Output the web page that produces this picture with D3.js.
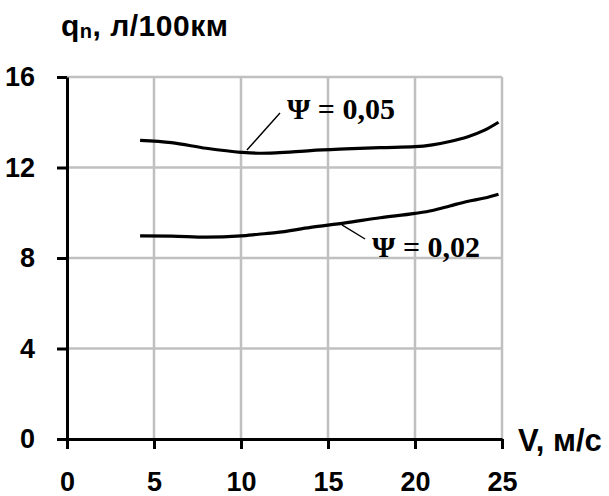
<!DOCTYPE html>
<html>
<head>
<meta charset="utf-8">
<script src="https://cdn.jsdelivr.net/npm/d3@7"></script>
<style>
  body { margin: 0; background: #fff; }
</style>
</head>
<body>
<svg id="chart"></svg>
<script>
var width = 609;
var height = 496;

// data
var speeds = [4.2, 6, 8, 10, 11, 12, 14, 16, 18, 20, 21, 22, 23, 24, 24.8];
var psi005 = [13.2, 13.1, 12.85, 12.67, 12.63, 12.65, 12.75, 12.82, 12.88, 12.92, 13.0, 13.15, 13.35, 13.65, 14.0];
var psi002 = [8.98, 8.97, 8.92, 8.98, 9.05, 9.12, 9.35, 9.55, 9.78, 9.97, 10.1, 10.3, 10.5, 10.65, 10.82];
var xTicks = [0, 5, 10, 15, 20, 25];
var yTicks = [0, 4, 8, 12, 16];
var seriesLabels = ["\u03A8 = 0,05", "\u03A8 = 0,02"];

var svg = d3.select("#chart")
    .attr("width", width)
    .attr("height", height);

var x = d3.scaleLinear().domain([0, 25]).range([67, 502]);
var y = d3.scaleLinear().domain([0, 16]).range([439, 77]);

// grid
svg.append("g").selectAll("line")
    .data(xTicks.slice(1))
    .enter().append("line")
    .attr("x1", d => x(d)).attr("x2", d => x(d))
    .attr("y1", y(0)).attr("y2", y(16))
    .style("stroke", "#c0c0c0").style("stroke-width", 2.5);

svg.append("g").selectAll("line")
    .data(yTicks.slice(1))
    .enter().append("line")
    .attr("x1", x(0)).attr("x2", x(25))
    .attr("y1", d => y(d)).attr("y2", d => y(d))
    .style("stroke", "#c0c0c0").style("stroke-width", 2.5);

// axes
var xAxis = svg.append("g")
    .attr("transform", "translate(0," + y(0) + ")")
    .call(d3.axisBottom(x).tickValues(xTicks).tickSize(10).tickSizeOuter(0).tickPadding(23));
var yAxis = svg.append("g")
    .attr("transform", "translate(" + x(0) + ",0)")
    .call(d3.axisLeft(y).tickValues(yTicks).tickSize(10).tickSizeOuter(0).tickPadding(22));

[xAxis, yAxis].forEach(function(a){
  a.selectAll("path, line").style("stroke", "#000").style("stroke-width", 3);
  a.selectAll("text")
    .style("font-family", "Liberation Sans, Arial, sans-serif")
    .style("font-weight", "bold")
    .style("font-size", "27px")
    .style("fill", "#000");
});

// curves
var line = d3.line()
    .x((d, i) => x(speeds[i]))
    .y(d => y(d))
    .curve(d3.curveMonotoneX);

[psi005, psi002].forEach(function(s){
  svg.append("path")
    .datum(s)
    .attr("d", line)
    .style("fill", "none")
    .style("stroke", "#000")
    .style("stroke-width", 3.2);
});

// leader lines and labels
var leaders = [[10.34, 12.77, 12.24, 14.41], [15.8, 9.46, 17.13, 8.84]];
var labelPos = [[12.64, 14.14], [17.53, 8.04]];

svg.append("g").selectAll("line")
    .data(leaders)
    .enter().append("line")
    .attr("x1", d => x(d[0])).attr("y1", d => y(d[1]))
    .attr("x2", d => x(d[2])).attr("y2", d => y(d[3]))
    .style("stroke", "#000").style("stroke-width", 1.4);

svg.append("g").selectAll("text")
    .data(seriesLabels)
    .enter().append("text")
    .attr("x", (d, i) => x(labelPos[i][0]))
    .attr("y", (d, i) => y(labelPos[i][1]))
    .style("font-family", "Liberation Serif, Times New Roman, serif")
    .style("font-weight", "bold")
    .style("font-size", "30px")
    .text(d => d);

// axis titles
var title = svg.append("text")
    .attr("x", 61)
    .attr("y", 36)
    .style("font-family", "Liberation Sans, Arial, sans-serif")
    .style("font-weight", "bold")
    .style("font-size", "30px")
    .style("letter-spacing", "0.5px");
title.append("tspan").text("q");
title.append("tspan").attr("dy", 2).style("font-size", "20px").text("n");
title.append("tspan").attr("dy", -2).text(", \u043B/100\u043A\u043C");

svg.append("text")
    .attr("x", 518)
    .attr("y", 451)
    .style("font-family", "Liberation Sans, Arial, sans-serif")
    .style("font-weight", "bold")
    .style("font-size", "31px")
    .text("V, \u043C/\u0441");
</script>
</body>
</html>
